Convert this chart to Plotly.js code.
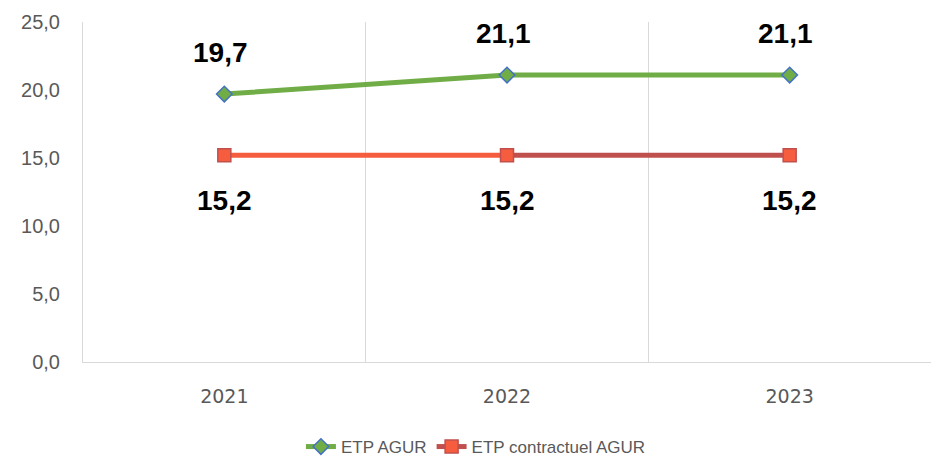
<!DOCTYPE html>
<html>
<head>
<meta charset="utf-8">
<script src="https://cdn.plot.ly/plotly-3.0.1.min.js"></script>
<style>html,body{margin:0;padding:0;background:#fff;}#chart{width:931px;height:458px;}</style>
</head>
<body>
<div id="chart"></div>
<script>
const years = ["2021", "2022", "2023"];
const etpAgur = [19.7, 21.1, 21.1];
const etpContractuel = [15.2, 15.2, 15.2];
const seriesNames = ["ETP AGUR", "ETP contractuel AGUR"];
const yTicks = [0, 5, 10, 15, 20, 25];

const fmt = v => v.toFixed(1).replace(".", ",");

const traces = [
  {
    x: years, y: etpAgur, name: seriesNames[0], type: "scatter", mode: "lines+markers",
    line: {color: "#70ad47", width: 5},
    marker: {symbol: "diamond", size: 12, color: "#70ad47", line: {color: "#4472c4", width: 1.5}}
  },
  {
    x: years.slice(0, 2), y: etpContractuel.slice(0, 2), name: seriesNames[1], type: "scatter", mode: "lines",
    line: {color: "#f55d3e", width: 5}, showlegend: false, hoverinfo: "skip"
  },
  {
    x: years.slice(1), y: etpContractuel.slice(1), name: seriesNames[1], type: "scatter", mode: "lines",
    line: {color: "#c0504d", width: 5}, showlegend: false, hoverinfo: "skip"
  },
  {
    x: years, y: etpContractuel, name: seriesNames[1], type: "scatter", mode: "markers",
    marker: {symbol: "square", size: 13, color: "#f55d3e", line: {color: "#c0504d", width: 1.5}},
    showlegend: false
  },
  {
    x: [null], y: [null], name: seriesNames[1], type: "scatter", mode: "lines+markers",
    line: {color: "#c0504d", width: 5},
    marker: {symbol: "square", size: 13, color: "#f55d3e", line: {color: "#c0504d", width: 1.5}},
    showlegend: true
  }
];

const labelFont = {family: "Liberation Sans, Arial, sans-serif", size: 28, color: "#000000"};
const annotations = [];
years.forEach((yr, i) => {
  annotations.push({x: i, y: etpAgur[i], xref: "x", yref: "y", text: "<b>" + fmt(etpAgur[i]) + "</b>",
    showarrow: false, yshift: 42, xshift: -4, font: labelFont});
  annotations.push({x: i, y: etpContractuel[i], xref: "x", yref: "y", text: "<b>" + fmt(etpContractuel[i]) + "</b>",
    showarrow: false, yshift: -45, xshift: 0, font: labelFont});
});

const layout = {
  width: 931, height: 458,
  margin: {l: 83, r: 0, t: 22, b: 96, pad: 0, autoexpand: false},
  paper_bgcolor: "#fff", plot_bgcolor: "#fff",
  font: {family: "Liberation Sans, Arial, sans-serif", color: "#595959"},
  showlegend: true,
  legend: {orientation: "h", x: 0.257, xanchor: "left", y: -0.25, yanchor: "middle",
    font: {size: 17, color: "#595959"}, traceorder: "normal", borderwidth: 0},
  xaxis: {
    type: "category", tickson: "boundaries", showgrid: true, gridcolor: "#d9d9d9", gridwidth: 1,
    showline: true, linecolor: "#d9d9d9", linewidth: 1, ticks: "", zeroline: false,
    range: [-0.5, 2.5], tickfont: {family: "DejaVu Sans, sans-serif", size: 19, color: "#595959"},
    ticklabelstandoff: 17, fixedrange: true, automargin: false
  },
  yaxis: {
    range: [0, 25], tickvals: yTicks, ticktext: yTicks.map(fmt), showgrid: false,
    showline: true, linecolor: "#d9d9d9", linewidth: 1, ticks: "", zeroline: false,
    tickfont: {size: 20, color: "#595959"}, ticklabelstandoff: 18, fixedrange: true, automargin: false
  },
  annotations: annotations
};

Plotly.newPlot("chart", traces, layout, {staticPlot: true, displayModeBar: false});
</script>
</body>
</html>
